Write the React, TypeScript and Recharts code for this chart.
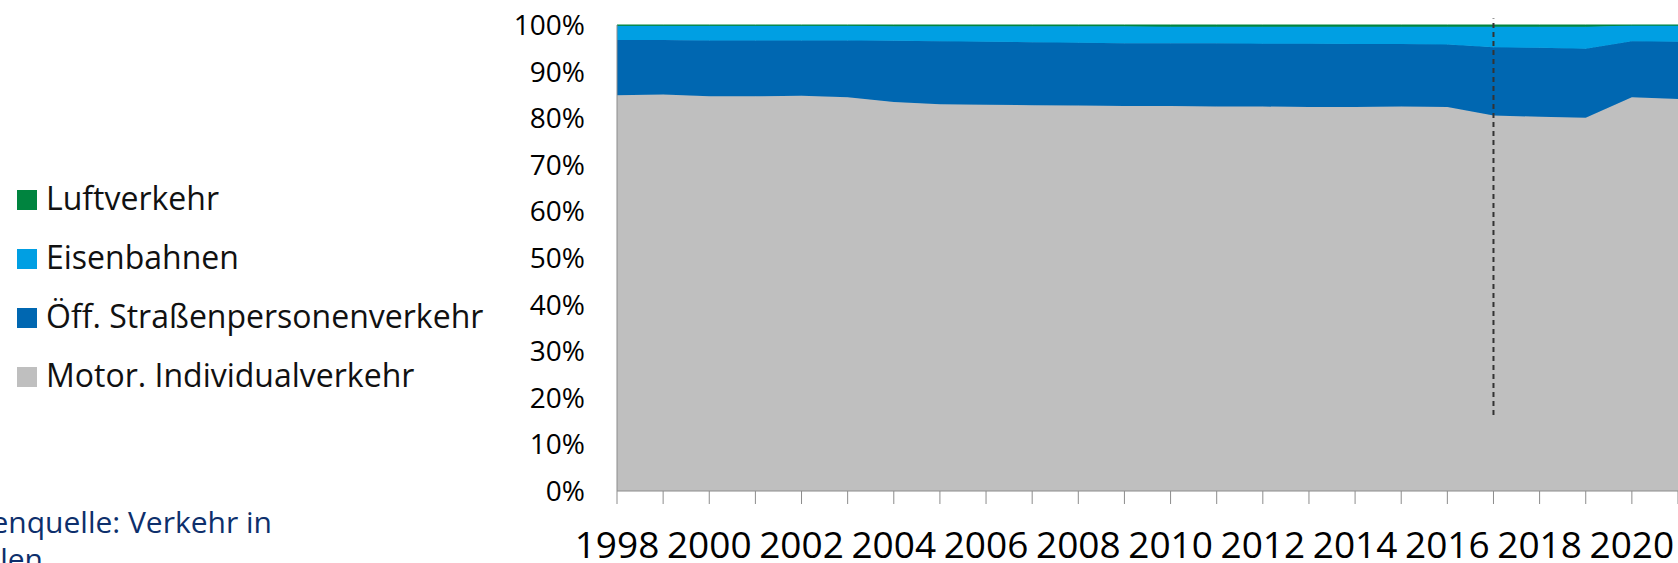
import { Area, AreaChart, ReferenceLine, XAxis, YAxis } from "recharts";

const years = [
  1998, 1999, 2000, 2001, 2002, 2003, 2004, 2005, 2006, 2007, 2008, 2009,
  2010, 2011, 2012, 2013, 2014, 2015, 2016, 2017, 2018, 2019, 2020, 2021,
];

// Anteile in Prozent
const motorIndividual = [
  84.9, 85.1, 84.7, 84.7, 84.8, 84.5, 83.5, 83.0, 82.9, 82.8, 82.7, 82.6,
  82.6, 82.5, 82.5, 82.4, 82.4, 82.5, 82.4, 80.6, 80.3, 80.1, 84.5, 84.1,
];
const oeffStrasse = [
  11.9, 11.7, 12.0, 12.0, 11.9, 12.2, 13.1, 13.5, 13.5, 13.5, 13.5, 13.5,
  13.5, 13.6, 13.5, 13.6, 13.5, 13.4, 13.4, 14.6, 14.8, 14.8, 12.0, 12.3,
];
const eisenbahnen = [
  3.05, 3.05, 3.15, 3.15, 3.15, 3.15, 3.15, 3.25, 3.35, 3.45, 3.55, 3.65,
  3.55, 3.55, 3.65, 3.65, 3.75, 3.75, 3.85, 4.45, 4.55, 4.75, 3.4, 3.5,
];
const luftverkehr = [
  0.15, 0.15, 0.15, 0.15, 0.15, 0.15, 0.25, 0.25, 0.25, 0.25, 0.25, 0.25,
  0.35, 0.35, 0.35, 0.35, 0.35, 0.35, 0.35, 0.35, 0.35, 0.35, 0.1, 0.1,
];

const yTicks = [0, 0.1, 0.2, 0.3, 0.4, 0.5, 0.6, 0.7, 0.8, 0.9, 1];

const SERIES = [
  { key: "miv", name: "Motor. Individualverkehr", color: "#bfbfbf" },
  { key: "oeff", name: "Öff. Straßenpersonenverkehr", color: "#0067b1" },
  { key: "bahn", name: "Eisenbahnen", color: "#009fe3" },
  { key: "luft", name: "Luftverkehr", color: "#00843f" },
];

const chartData = years.map((year, i) => ({
  year,
  miv: motorIndividual[i],
  oeff: oeffStrasse[i],
  bahn: eisenbahnen[i],
  luft: luftverkehr[i],
}));

const FONT = "'Open Sans', sans-serif";
const AXIS_GREY = "#8c8c8c";

const YearTick = ({ x, y, payload }: any) => {
  if (payload.value % 2 !== 0) return <g />;
  return (
    <text
      x={x}
      y={y}
      dy="0.71em"
      textAnchor="middle"
      fill="#000"
      fontSize={37}
      fontFamily={FONT}
    >
      {payload.value}
    </text>
  );
};

export default function App() {
  const legendRows = [...SERIES].reverse();
  return (
    <div
      style={{
        position: "fixed",
        left: 0,
        top: 0,
        width: 1678,
        height: 563,
        overflow: "hidden",
        background: "#fff",
      }}
    >
      <svg
        width={600}
        height={563}
        style={{ position: "absolute", left: 0, top: 0 }}
      >
        {legendRows.map((s, i) => (
          <g key={s.key}>
            <rect x={17} y={190 + i * 59} width={20} height={20} fill={s.color} />
            <text
              x={46}
              y={210 + i * 59}
              fontSize={32}
              fontFamily={FONT}
              fill="#111"
            >
              {s.name}
            </text>
          </g>
        ))}
        <text
          x={272}
          y={533}
          textAnchor="end"
          fontSize={30}
          fontFamily={FONT}
          fill="#0d2f6c"
        >
          Datenquelle: Verkehr in
        </text>
        <text
          x={43}
          y={570}
          textAnchor="end"
          fontSize={30}
          fontFamily={FONT}
          fill="#0d2f6c"
        >
          Zahlen
        </text>
      </svg>

      <div style={{ position: "absolute", left: 0, top: 0 }}>
        <AreaChart
          width={1678}
          height={563}
          data={chartData}
          stackOffset="expand"
          margin={{ top: 25, right: 0, bottom: 0, left: 0 }}
        >
          {SERIES.map((s) => (
            <Area
              key={s.key}
              type="linear"
              dataKey={s.key}
              name={s.name}
              stackId="1"
              fill={s.color}
              fillOpacity={1}
              stroke={s.color}
              strokeWidth={1}
              isAnimationActive={false}
            />
          ))}
          <XAxis
            dataKey="year"
            interval={0}
            height={72}
            tickSize={13}
            tickMargin={28}
            axisLine={{ stroke: AXIS_GREY }}
            tickLine={{ stroke: AXIS_GREY }}
            tick={<YearTick />}
          />
          <YAxis
            width={617}
            domain={[0, 1]}
            ticks={yTicks}
            tickLine={false}
            tickSize={30}
            tickMargin={2}
            axisLine={{ stroke: AXIS_GREY }}
            tickFormatter={(v: number) => `${Math.round(v * 100)}%`}
            tick={{ fill: "#000", fontSize: 28, fontFamily: FONT }}
          />
          <ReferenceLine
            segment={[
              { x: 2017, y: 0.163 },
              { x: 2017, y: 1.014 },
            ]}
            ifOverflow="visible"
            stroke="#333"
            strokeWidth={2}
            strokeDasharray="5 4"
          />
        </AreaChart>
      </div>
    </div>
  );
}
